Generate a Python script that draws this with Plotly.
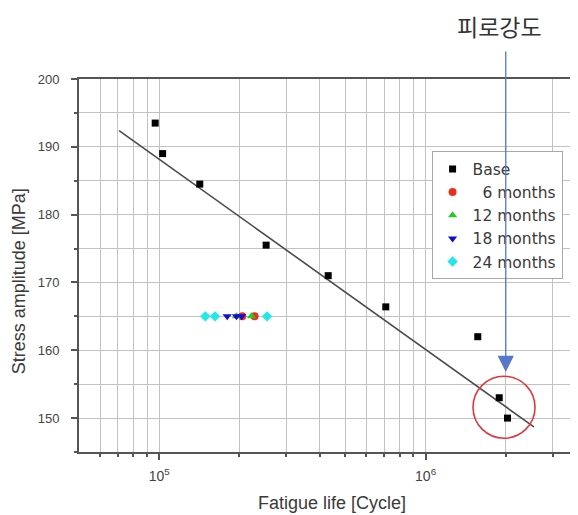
import math
import plotly.graph_objects as go

# ---- data ----
base_life = [9.66e4, 1.03e5, 1.42e5, 2.52e5, 4.31e5, 7.09e5, 1.57e6, 1.89e6, 2.03e6]
base_stress = [193.5, 189.0, 184.5, 175.5, 171.0, 166.4, 162.0, 153.0, 150.0]

m6_life = [2.05e5, 2.28e5]
m6_stress = [165.0, 165.0]
m12_life = [1.95e5, 2.22e5]
m12_stress = [165.0, 165.0]
m18_life = [1.80e5, 1.95e5, 2.04e5]
m18_stress = [165.0, 165.0, 165.0]
m24_life = [1.49e5, 1.62e5, 2.54e5]
m24_stress = [165.0, 165.0, 165.0]

fit_life = [7.07e4, 2.55e6]
fit_stress = [192.4, 148.7]

highlight_life = [1.97e6]
highlight_stress = [151.6]

arrow_life = 2.0e6
arrow_stress = 156.8

x_range = [5e4, 3.67e6]
y_range = [145, 200]
x_major_ticks = [1e5, 1e6]
x_major_text = ["10<sup>5</sup>", "10<sup>6</sup>"]
x_minor_ticks = [6e4, 7e4, 8e4, 9e4,
                 2e5, 3e5, 4e5, 5e5, 6e5, 7e5, 8e5, 9e5,
                 2e6, 3e6]

FONT = "Liberation Sans, Arial, sans-serif"
GRID = "#c2c2c2"
AXIS = "#555555"

fig = go.Figure()

fig.add_trace(go.Scatter(x=fit_life, y=fit_stress, mode="lines",
                         line=dict(color="#4a4a4a", width=1.6),
                         showlegend=False, hoverinfo="skip"))
fig.add_trace(go.Scatter(x=base_life, y=base_stress, mode="markers", name="Base",
                         marker=dict(symbol="square", size=7, color="black")))
fig.add_trace(go.Scatter(x=m6_life, y=m6_stress, mode="markers", name="  6 months",
                         marker=dict(symbol="circle", size=8, color="#e8301c")))
fig.add_trace(go.Scatter(x=m12_life, y=m12_stress, mode="markers", name="12 months",
                         marker=dict(symbol="triangle-up", size=8, color="#22cc22")))
fig.add_trace(go.Scatter(x=m18_life, y=m18_stress, mode="markers", name="18 months",
                         marker=dict(symbol="triangle-down", size=8, color="#1010cc")))
fig.add_trace(go.Scatter(x=m24_life, y=m24_stress, mode="markers", name="24 months",
                         marker=dict(symbol="diamond", size=8, color="#22e8e8")))
fig.add_trace(go.Scatter(x=highlight_life, y=highlight_stress, mode="markers",
                         marker=dict(symbol="circle-open", size=62,
                                     color="#e0383c", line=dict(width=1.6, color="#e0383c")),
                         showlegend=False, hoverinfo="skip"))

# the page body has an 8px margin, so the figure is 8px smaller than the window
fig.update_layout(
    width=570, height=507,
    margin=dict(l=71, r=0, t=71, b=63),
    paper_bgcolor="white", plot_bgcolor="white",
    font=dict(family=FONT, color="#444444", size=13),
    showlegend=True,
    legend=dict(x=0.7094, y=0.806, xanchor="left", yanchor="top",
                bgcolor="white", bordercolor="#a8a8a8", borderwidth=1,
                font=dict(family="DejaVu Sans, sans-serif", size=15.5, color="#3a3a3a"),
                tracegroupgap=0, itemsizing="trace"),
    xaxis=dict(type="log",
               range=[math.log10(x_range[0]), math.log10(x_range[1])],
               tickvals=x_major_ticks, ticktext=x_major_text,
               ticks="outside", ticklen=6, tickcolor=AXIS, tickwidth=1.5,
               ticklabelstandoff=4,
               showgrid=True, gridcolor=GRID, gridwidth=1,
               minor=dict(tickvals=x_minor_ticks, ticks="outside", ticklen=3,
                          tickcolor=AXIS, showgrid=True, gridcolor=GRID, gridwidth=1),
               showline=True, linecolor=AXIS, linewidth=2, mirror=True,
               zeroline=False,
               tickfont=dict(family=FONT, size=14, color="#444444")),
    yaxis=dict(range=y_range, dtick=10, tick0=150,
               ticks="outside", ticklen=6, tickcolor=AXIS, tickwidth=1.5,
               ticklabelstandoff=9,
               showgrid=True, gridcolor=GRID, gridwidth=1,
               minor=dict(dtick=5, ticks="outside", ticklen=3, tickcolor=AXIS,
                          showgrid=True, gridcolor=GRID, gridwidth=1),
               showline=True, linecolor=AXIS, linewidth=2, mirror=True,
               zeroline=False,
               tickfont=dict(family=FONT, size=13, color="#444444")),
    annotations=[
        dict(xref="paper", yref="paper", x=-0.1202, y=0.4584,
             text="Stress amplitude [MPa]", textangle=-90, showarrow=False,
             font=dict(family=FONT, size=18, color="#3a3a3a"),
             xanchor="center", yanchor="middle"),
        dict(xref="paper", yref="paper", x=0.509, y=-0.1367,
             text="Fatigue life [Cycle]", showarrow=False,
             font=dict(family=FONT, size=18, color="#3a3a3a"),
             xanchor="center", yanchor="middle"),
        dict(xref="x", yref="y", x=math.log10(arrow_life), y=arrow_stress,
             text="", showarrow=True, arrowhead=2, arrowsize=2.5, arrowwidth=1.3,
             arrowcolor="#5577cc", ax=0, ay=-322),
        dict(xref="paper", yref="paper", x=0.8457, y=1.143,
             text="피로강도", showarrow=False,
             font=dict(family="Noto Sans CJK KR", size=23, color="#333333"),
             xanchor="center", yanchor="middle"),
    ],
)

fig.write_html("out.html")
